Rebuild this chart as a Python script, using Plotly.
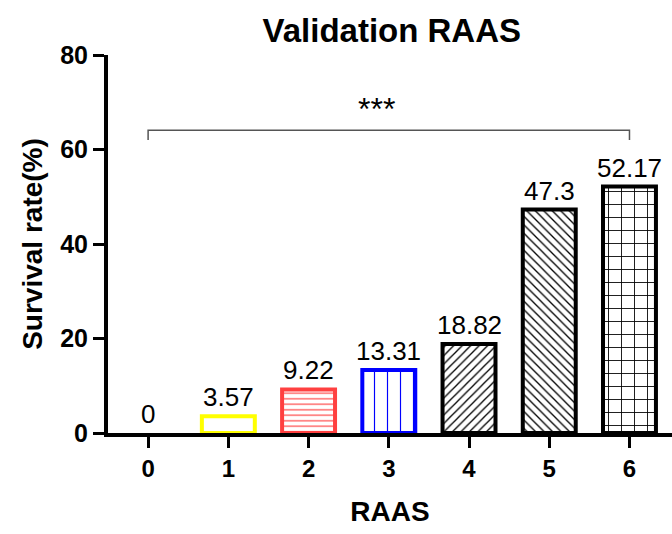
import plotly.graph_objects as go

categories = [0, 1, 2, 3, 4, 5, 6]
survival = [0, 3.57, 9.22, 13.31, 18.82, 47.3, 52.17]
labels = ["0", "3.57", "9.22", "13.31", "18.82", "47.3", "52.17"]
outline_colors = ["rgba(0,0,0,0)", "#ffff00", "#ff4040", "#0000ff", "#000000", "#000000", "#000000"]
outline_widths = [0, 4, 4, 4, 4, 4, 4]
pattern_colors = ["#000000", "#ffff00", "#ff7070", "#0000ff", "#000000", "#000000", "#000000"]
pattern_shapes = ["", "", "-", "|", "/", "\\", "+"]
pattern_sizes = [8, 8, 5.5, 13, 6, 6, 13]
pattern_solidity = [0.2, 0.2, 0.28, 0.09, 0.22, 0.22, 0.13]
bracket_x = [0, 6]
bracket_top = 64.1
bracket_drop = 62.0
sig_text = "***"
sig_x = 2.85
sig_y = 68.6

FONT = "Liberation Sans, Arial, sans-serif"

fig = go.Figure()
fig.add_trace(go.Bar(
    x=categories, y=survival, width=0.66,
    marker=dict(
        color="white",
        line=dict(color=outline_colors, width=outline_widths),
        pattern=dict(shape=pattern_shapes, fgcolor=pattern_colors, bgcolor="white",
                     size=pattern_sizes, solidity=pattern_solidity, fillmode="replace"),
    ),
    showlegend=False, hoverinfo="skip",
))

# significance bracket
fig.add_trace(go.Scatter(
    x=[bracket_x[0], bracket_x[0], bracket_x[1], bracket_x[1]],
    y=[bracket_drop, bracket_top, bracket_top, bracket_drop],
    mode="lines", line=dict(color="#555555", width=1.5),
    showlegend=False, hoverinfo="skip", cliponaxis=False,
))

annotations = []
for c, v, t in zip(categories, survival, labels):
    annotations.append(dict(x=c, y=v, text=t, showarrow=False, xref="x", yref="y",
                            yanchor="bottom", yshift=2,
                            font=dict(family=FONT, size=26, color="black")))
annotations.append(dict(x=sig_x, y=sig_y, text=sig_text, showarrow=False, xref="x", yref="y",
                        yanchor="middle", font=dict(family=FONT, size=32, color="black")))

fig.update_layout(
    width=672, height=534,
    margin=dict(l=108, r=0, t=55, b=101),
    paper_bgcolor="white", plot_bgcolor="white",
    title=dict(text="Validation RAAS", x=0.583, xref="container", xanchor="center",
               y=1 - 30 / 534, yref="container", yanchor="middle",
               font=dict(family=FONT, size=33, color="black", weight="bold")),
    annotations=annotations,
)
fig.update_xaxes(
    range=[-0.5, 6.53], tickvals=categories, ticktext=[str(c) for c in categories],
    showline=True, linecolor="black", linewidth=4,
    ticks="outside", ticklen=11, tickwidth=3, tickcolor="black",
    showgrid=False, zeroline=False,
    tickfont=dict(family=FONT, size=24, color="black", weight="bold"),
    title=dict(text="RAAS", standoff=22, font=dict(family=FONT, size=28, color="black", weight="bold")),
)
fig.update_yaxes(
    range=[0, 80], tickvals=[0, 20, 40, 60, 80],
    showline=True, linecolor="black", linewidth=4,
    ticks="outside", ticklen=11, tickwidth=3, tickcolor="black",
    showgrid=False, zeroline=False,
    tickfont=dict(family=FONT, size=25, color="black", weight="bold"),
    title=dict(text="Survival rate(%)", standoff=10, font=dict(family=FONT, size=28, color="black", weight="bold")),
)

fig.write_html("out.html")
